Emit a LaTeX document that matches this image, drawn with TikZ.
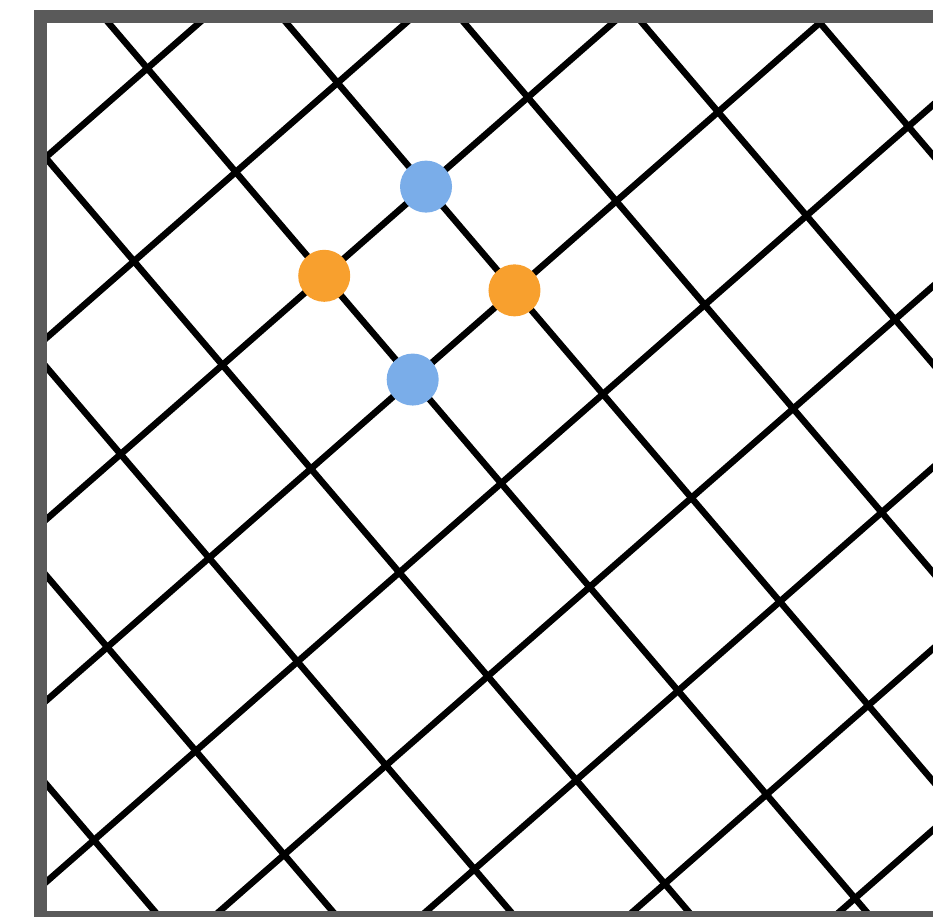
\documentclass[tikz,border=0pt]{standalone}
\usepackage{tikz}
\definecolor{framegray}{RGB}{90,90,90}
\definecolor{dotblue}{RGB}{122,173,233}
\definecolor{dotorange}{RGB}{248,160,46}

\begin{document}
\begin{tikzpicture}[
  x=1pt, y=-1pt,
  gridline/.style={line width=6.5pt, color=black},
  frameline/.style={line width=12.7pt, color=framegray},
  dot/.style={circle, inner sep=0pt, minimum size=52pt},
  bluedot/.style={dot, fill=dotblue},
  orangedot/.style={dot, fill=dotorange}
]
\useasboundingbox (0,0) rectangle (933,916);
\coordinate (origin) at (147.3,68.3);

\begin{scope}
\clip (40.3,16.3) rectangle (933,917.4);
% tilted lattice, unit steps along the two line families
\begin{scope}[shift={(origin)}, x={(88.46pt,-103.75pt)}, y={(101.8pt,89.2pt)}]
\foreach \k in {-1,...,8} \draw[gridline] (\k,-6) -- (\k,6);
\foreach \k in {-5,...,5} \draw[gridline] (-2,\k) -- (10,\k);

\node[bluedot] (bluetop) at (2,1) {};
\node[bluedot] (bluebottom) at (3,0) {};
\node[orangedot] (orangeleft) at (2,0) {};
\node[orangedot] (orangeright) at (3,1) {};
\end{scope}
\end{scope}

\draw[frameline] (40.3,16.3) rectangle (960,917.4);
\end{tikzpicture}
\end{document}
